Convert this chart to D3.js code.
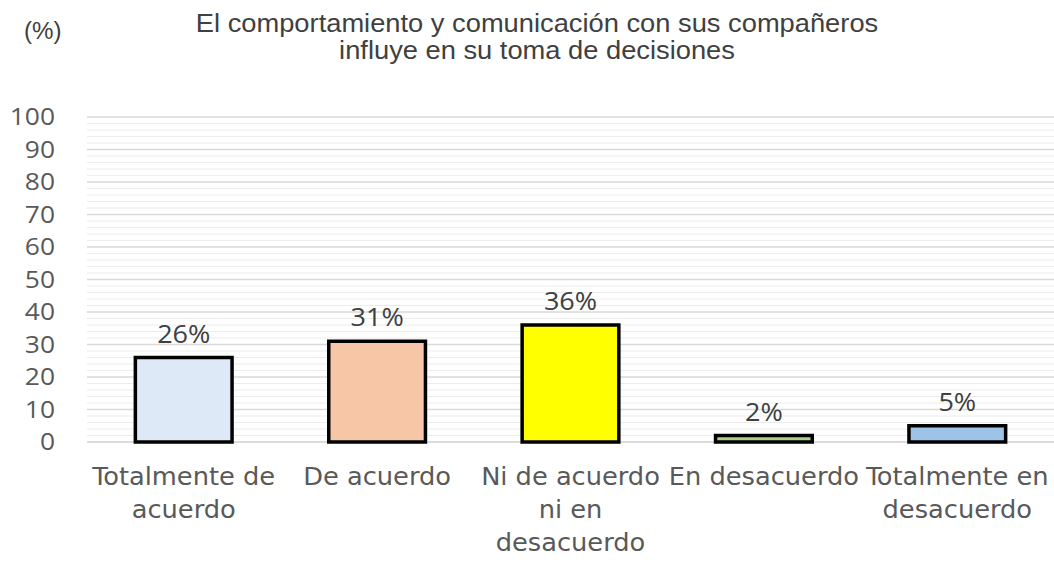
<!DOCTYPE html>
<html>
<head>
<meta charset="utf-8">
<script src="https://cdn.jsdelivr.net/npm/d3@7"></script>
<style>
  body { margin: 0; background: #fff; }
</style>
</head>
<body>
<div id="chart"></div>
<script>
// data
const categories = ["Totalmente de acuerdo", "De acuerdo", "Ni de acuerdo ni en desacuerdo", "En desacuerdo", "Totalmente en desacuerdo"];
const labelLines = [["Totalmente de", "acuerdo"], ["De acuerdo"], ["Ni de acuerdo", "ni en", "desacuerdo"], ["En desacuerdo"], ["Totalmente en", "desacuerdo"]];
const values = [26, 31, 36, 2, 5];
const barColors = ["#dde9f6", "#f7c6a7", "#ffff00", "#a9d18e", "#9dc3e6"];
const yTicks = [0, 10, 20, 30, 40, 50, 60, 70, 80, 90, 100];
const minorTicks = d3.range(0, 101, 2);
const titleLines = ["El comportamiento y comunicación con sus compañeros", "influye en su toma de decisiones"];

const W = 1054, H = 576;
const margin = {top: 117, right: 0, bottom: 134, left: 87};
const width = W - margin.left - margin.right;
const height = H - margin.top - margin.bottom;

// the source picture is stretched sideways a bit, so text gets a horizontal scale
const stretch = (tx, ty, s) => "translate(" + tx + "," + ty + ") scale(" + s + ",1)";

const svg = d3.select("#chart").append("svg")
    .attr("width", W)
    .attr("height", H);

const g = svg.append("g")
    .attr("transform", "translate(" + margin.left + "," + margin.top + ")");

const x = d3.scaleBand()
    .domain(categories)
    .range([0, width])
    .paddingInner(0.5)
    .paddingOuter(0.25);

const y = d3.scaleLinear()
    .domain([0, 100])
    .range([height, 0]);

// minor gridlines
g.append("g").selectAll("line")
    .data(minorTicks.filter(d => d % 10 !== 0))
    .enter().append("line")
    .attr("x1", 0).attr("x2", width)
    .attr("y1", d => y(d)).attr("y2", d => y(d))
    .style("stroke", "#ececec")
    .style("stroke-width", 1);

// major gridlines
g.append("g").selectAll("line")
    .data(yTicks)
    .enter().append("line")
    .attr("x1", 0).attr("x2", width)
    .attr("y1", d => y(d)).attr("y2", d => y(d))
    .style("stroke", d => d === 0 ? "#d0d0d0" : "#d9d9d9")
    .style("stroke-width", 1.5);

// y axis labels
const yAxis = d3.axisLeft(y).tickValues(yTicks).tickSize(0);
g.append("g")
    .attr("class", "y-axis")
    .call(yAxis)
    .call(s => s.select(".domain").remove())
    .selectAll("text")
    .attr("x", 0)
    .attr("transform", stretch(-32, 0, 1.1))
    .style("font-family", "'Open Sans', sans-serif")
    .style("font-size", "24px")
    .style("fill", "#595959");

// bars
g.selectAll(".bar")
    .data(values)
    .enter().append("rect")
    .attr("class", "bar")
    .attr("x", (d, i) => x(categories[i]))
    .attr("width", x.bandwidth())
    .attr("y", d => y(d))
    .attr("height", d => y(0) - y(d))
    .style("fill", (d, i) => barColors[i])
    .style("stroke", "#000")
    .style("stroke-width", 3.5);

// value labels
g.selectAll(".val")
    .data(values)
    .enter().append("text")
    .attr("class", "val")
    .attr("transform", (d, i) => stretch(x(categories[i]) + x.bandwidth() / 2, y(d) - 15, 1.08))
    .attr("text-anchor", "middle")
    .style("font-family", "'Open Sans', sans-serif")
    .style("font-size", "25px")
    .style("fill", "#404040")
    .text(d => d + "%");

// category labels
const xl = g.append("g").attr("class", "x-labels");
labelLines.forEach(function(lines, i) {
    const t = xl.append("text")
        .attr("transform", stretch(x(categories[i]) + x.bandwidth() / 2, height + 43, 1.19))
        .attr("text-anchor", "middle")
        .style("font-family", "'Liberation Sans Narrow', 'DejaVu Sans Condensed', sans-serif")
        .style("font-size", "24px")
        .style("fill", "#595959");
    lines.forEach(function(line, j) {
        t.append("tspan")
            .attr("x", 0)
            .attr("dy", j === 0 ? 0 : 33)
            .text(line);
    });
});

// title
svg.selectAll(".title")
    .data(titleLines)
    .enter().append("text")
    .attr("class", "title")
    .attr("transform", (d, i) => stretch(537, 32 + i * 27, 1.05))
    .attr("text-anchor", "middle")
    .style("font-family", "'Liberation Sans', Arial, sans-serif")
    .style("font-size", "26px")
    .style("fill", "#404040")
    .text(d => d);

svg.append("text")
    .attr("transform", stretch(24, 39, 1.05))
    .style("font-family", "'Liberation Sans', Arial, sans-serif")
    .style("font-size", "23px")
    .style("fill", "#404040")
    .text("(%)");
</script>
</body>
</html>
